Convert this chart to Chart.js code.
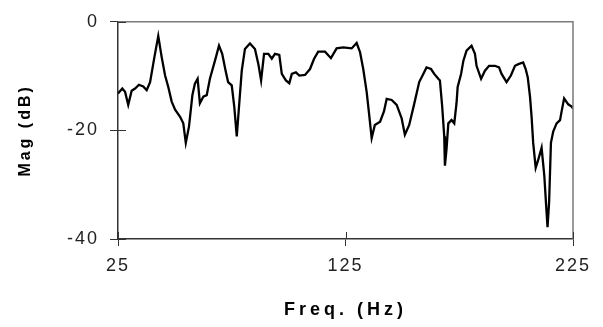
<!DOCTYPE html>
<html>
<head>
<meta charset="utf-8">
<script src="https://cdn.jsdelivr.net/npm/chart.js@4.4.1/dist/chart.umd.min.js"></script>
<style>
  html, body { margin: 0; padding: 0; background: #fff; }
  #wrap { width: 603px; height: 327px; }
</style>
</head>
<body>
<div id="wrap"><canvas id="c" width="603" height="327"></canvas></div>
<script>
const freqHz = [25, 26.9, 28.1, 29.5, 31.0, 32.5, 34.2, 36.1, 37.6, 39.1,
  41.0, 42.7, 44.2, 45.7, 47.1, 48.6, 50.1, 52.3, 53.7, 54.8,
  56.2, 57.7, 58.8, 60.0, 61.0, 62.5, 64.0, 65.4, 67.6, 69.4,
  70.8, 72.3, 73.4, 75.0, 76.1, 77.2, 78.2, 79.4, 80.8, 83.0,
  85.2, 86.7, 87.9, 89.2, 91.1, 92.6, 94.0, 95.9, 97.0, 98.8,
  100.3, 101.4, 103.2, 104.7, 107.2, 109.4, 111.2, 113.0, 116.0, 118.6,
  121.1, 124.0, 127.7, 129.9, 131.4, 132.8, 134.3, 135.4, 136.5, 137.9,
  140.2, 141.9, 143.1, 145.3, 147.5, 149.7, 151.1, 153.0, 155.1, 157.4,
  159.2, 160.6, 162.6, 164.0, 165.8, 166.5, 167.5, 168.4, 168.7, 169.4,
  170.2, 171.6, 172.8, 173.8, 174.3, 175.8, 176.8, 178.2, 180.4, 181.9,
  182.6, 184.6, 186.3, 188.1, 190.7, 192.5, 193.6, 195.8, 197.7, 199.5,
  201.0, 203.1, 204.2, 205.1, 206.1, 206.8, 207.5, 208.6, 209.8, 211.2,
  212.4, 213.1, 213.8, 214.5, 215.3, 216.3, 217.8, 219.3, 220.0, 221.1,
  222.9, 224.4, 225];
const magDb = [-13.2, -12.3, -12.9, -15.3, -12.7, -12.3, -11.6, -11.9, -12.6, -11.1,
  -6.5, -2.6, -6.5, -9.9, -12.0, -14.7, -16.2, -17.5, -18.7, -22.3,
  -19.3, -13.5, -11.4, -10.5, -15.0, -13.8, -13.5, -10.5, -7.2, -4.4,
  -5.9, -9.0, -11.1, -11.7, -15.6, -21.1, -15.6, -9.0, -5.0, -4.0,
  -5.0, -7.8, -10.8, -5.9, -5.9, -6.8, -5.9, -6.1, -9.6, -10.8,
  -11.3, -9.6, -9.3, -9.9, -9.8, -8.7, -6.8, -5.5, -5.5, -6.7,
  -4.9, -4.7, -4.9, -3.9, -5.6, -8.7, -12.9, -17.1, -21.4, -19.0,
  -18.4, -16.5, -14.2, -14.4, -15.3, -17.8, -20.8, -19.0, -15.3, -11.1,
  -9.6, -8.4, -8.7, -9.6, -10.5, -10.8, -15.6, -21.1, -26.5, -23.5,
  -18.7, -18.1, -18.7, -15.0, -12.0, -9.6, -7.2, -5.3, -4.4, -5.9,
  -8.1, -10.5, -9.0, -8.1, -8.1, -8.4, -9.6, -11.1, -9.9, -8.1,
  -7.8, -7.5, -8.7, -10.2, -13.8, -17.5, -22.3, -26.9, -25.3, -23.2,
  -28.4, -33.2, -37.8, -33.2, -22.3, -20.2, -18.7, -18.1, -16.5, -14.1,
  -15.2, -15.6, -16.0];
const xTicks = [25, 125, 225];
const yTicks = [0, -20, -40];
const xTitle = 'Freq. (Hz)';
const yTitle = 'Mag (dB)';

const points = freqHz.map((f, i) => ({ x: f, y: magDb[i] }));

// letter spacing for labels / titles, and frame + inward ticks
const stylePlugin = {
  id: 'stylePlugin',
  beforeDraw(chart) {
    const ctx = chart.ctx;
    for (const id of ['x', 'y']) {
      const s = chart.scales[id];
      if (s._patched) continue;
      s._patched = true;
      const oTitle = s.drawTitle.bind(s);
      const oLabels = s.drawLabels.bind(s);
      const tSp = id === 'x' ? '4px' : '3px';
      s.drawTitle = function () { ctx.save(); ctx.letterSpacing = tSp; oTitle(); ctx.restore(); };
      s.drawLabels = function (a) { ctx.save(); ctx.letterSpacing = '2px'; oLabels(a); ctx.restore(); };
    }
  },
  afterDraw(chart) {
    const ctx = chart.ctx;
    const a = chart.chartArea;
    const xs = chart.scales.x, ys = chart.scales.y;
    ctx.save();
    // top and right frame
    ctx.strokeStyle = '#7a7a7a';
    ctx.lineWidth = 1.5;
    ctx.beginPath();
    ctx.moveTo(a.left, a.top);
    ctx.lineTo(a.right, a.top);
    ctx.lineTo(a.right, a.bottom);
    ctx.stroke();
    // inward tick marks
    ctx.strokeStyle = '#333';
    ctx.lineWidth = 1;
    ctx.beginPath();
    xTicks.forEach(v => {
      const px = Math.round(xs.getPixelForValue(v)) + 0.5;
      ctx.moveTo(px, a.bottom);
      ctx.lineTo(px, a.bottom - 7);
    });
    yTicks.forEach(v => {
      const py = Math.round(ys.getPixelForValue(v)) + 0.5;
      ctx.moveTo(a.left, py);
      ctx.lineTo(a.left + 8, py);
    });
    ctx.stroke();
    ctx.restore();
  }
};

new Chart(document.getElementById('c'), {
  type: 'line',
  data: {
    datasets: [{
      data: points,
      borderColor: '#000',
      borderWidth: 2.3,
      pointRadius: 0,
      tension: 0,
      fill: false
    }]
  },
  options: {
    responsive: false,
    animation: false,
    parsing: true,
    layout: { padding: { top: 19, right: 30, left: 0, bottom: 0 } },
    plugins: { legend: { display: false }, tooltip: { enabled: false } },
    scales: {
      x: {
        type: 'linear',
        min: 25, max: 225,
        afterBuildTicks: s => { s.ticks = xTicks.map(v => ({ value: v })); },
        afterFit: s => { s.height = 88; },
        grid: { drawOnChartArea: false, drawTicks: true, tickLength: 7, color: '#333', lineWidth: 1 },
        border: { display: true, color: '#333', width: 1.5 },
        ticks: {
          autoSkip: false, maxRotation: 0, padding: 9,
          color: '#222',
          font: { family: '"Liberation Sans", Arial, sans-serif', size: 18 }
        },
        title: {
          display: true, text: xTitle, color: '#000',
          padding: { top: 0, bottom: 6 },
          font: { family: '"Liberation Sans", Arial, sans-serif', size: 18, weight: 'bold' }
        }
      },
      y: {
        type: 'linear',
        min: -40, max: 0,
        afterBuildTicks: s => { s.ticks = yTicks.map(v => ({ value: v })); },
        afterFit: s => { s.width = 118; },
        grid: { drawOnChartArea: false, drawTicks: true, tickLength: 8, color: '#333', lineWidth: 1 },
        border: { display: true, color: '#333', width: 1.5 },
        ticks: {
          padding: 11,
          color: '#222',
          font: { family: '"Liberation Sans", Arial, sans-serif', size: 18 }
        },
        title: {
          display: true, text: yTitle, color: '#000',
          padding: { top: 16, bottom: 0 },
          font: { family: '"Liberation Sans", Arial, sans-serif', size: 16, weight: 'bold' }
        }
      }
    }
  },
  plugins: [stylePlugin]
});
</script>
</body>
</html>
